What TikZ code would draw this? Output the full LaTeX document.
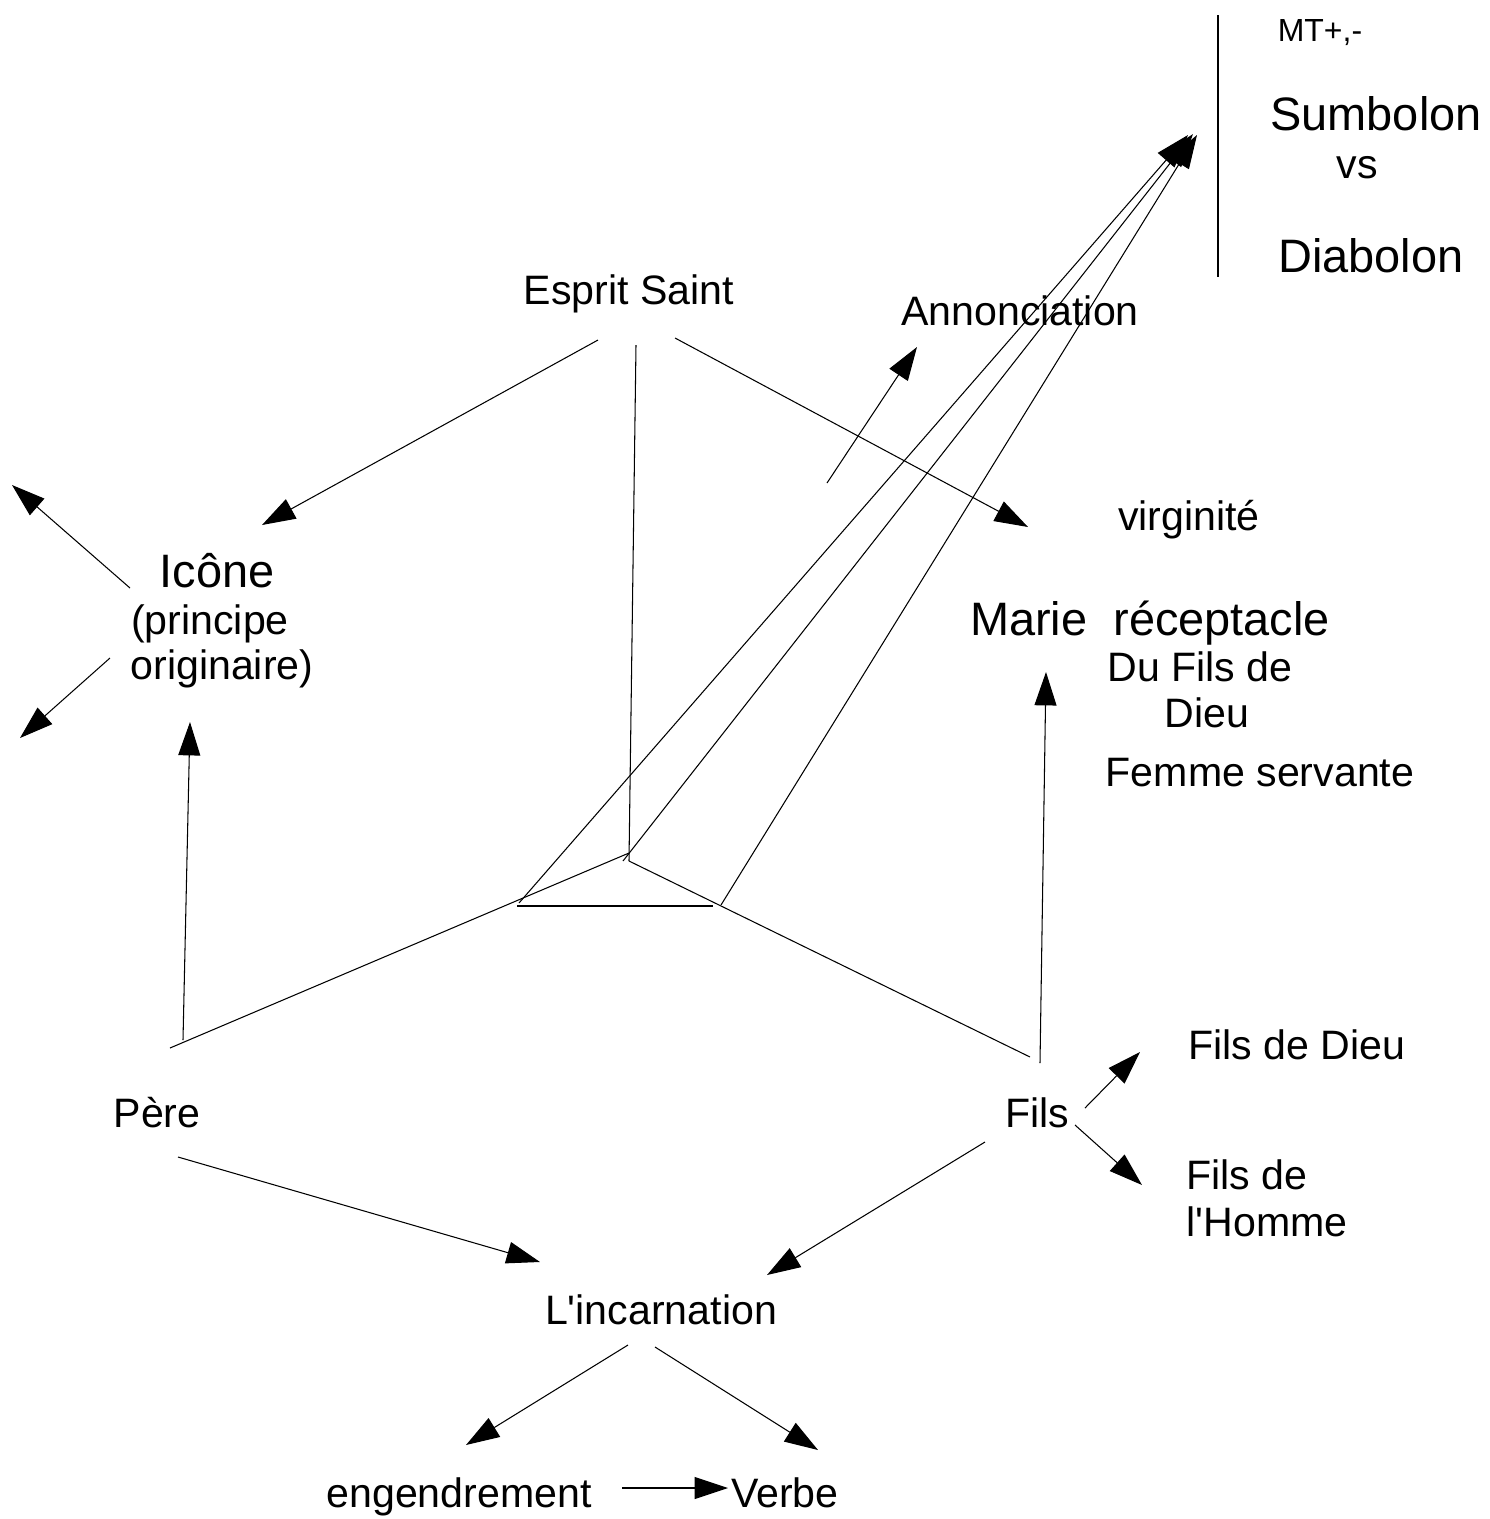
\documentclass[tikz,border=0pt]{standalone}
\usepackage{fontspec}
\setmainfont{Liberation Sans}
\usetikzlibrary{arrows.meta}

\begin{document}
\begin{tikzpicture}[%
    x=0.02cm, y=-0.02cm,
    line width=0.6pt,
    >={Triangle[length=19pt,width=12.5pt]},
lbl/.style={anchor=base, inner sep=0pt, font=\fontsize{23.4}{28}\selectfont},
biglbl/.style={anchor=base, inner sep=0pt, font=\fontsize{26.7}{32}\selectfont},
smalllbl/.style={anchor=base, inner sep=0pt, font=\fontsize{18.2}{22}\selectfont}
]
\useasboundingbox (0,0) rectangle (1489,1519);

% Top right box
\node[smalllbl]   (mt)        at (1320,41)  {MT+,-};
\node[biglbl]     (sumbolon)  at (1376,130) {Sumbolon};
\node[lbl]        (vs)        at (1357,178) {vs};
\node[biglbl]     (diabolon)  at (1371,272) {Diabolon};
\coordinate (bar-top) at (1218,15);
\coordinate (bar-bot) at (1218,277);
\draw (bar-top) -- (bar-bot);

% Esprit Saint
\node[lbl]        (esprit)    at (629,304)  {Esprit Saint};
\node[lbl]        (annonce)   at (1020,325) {Annonciation};
\node[lbl]        (virginite) at (1189,530) {virginité};

% Icone
\node[biglbl]     (icone)     at (217,587)  {Icône};
\node[lbl]        (principe)  at (210,634)  {(principe};
\node[lbl]        (originaire) at (222,679) {originaire)};

% Marie
\node[biglbl]     (marie)     at (1150,635) {Marie\ \ réceptacle};
\node[lbl]        (dufils)    at (1200,681) {Du Fils de};
\node[lbl]        (dieu)      at (1207,727) {Dieu};
\node[lbl]        (femme)     at (1260,786) {Femme servante};

% Pere and Fils
\node[lbl]        (pere)      at (157,1127) {Père};
\node[lbl]        (fils)      at (1037,1127) {Fils};
\node[lbl]        (filsdieu)  at (1297,1059) {Fils de Dieu};
\node[lbl]        (filsde)    at (1247,1189) {Fils de};
\node[lbl]        (homme)     at (1267,1236) {l\textquotesingle Homme};

% Incarnation
\node[lbl]        (incarn)    at (661,1324) {L\textquotesingle incarnation};
\node[lbl]        (engendre)  at (459,1507) {engendrement};
\node[lbl]        (verbe)     at (785,1507) {Verbe};

% triangle corners
\coordinate (top)   at (629,861);
\coordinate (left)  at (517,906);
\coordinate (right) at (713,906);
\coordinate (tip1)  at (1188,135);
\coordinate (tip2)  at (1193,134);
\coordinate (tip3)  at (1197,135);

% Esprit lines
\draw[->] (598,340) -- (262,525);
\draw (636,345) -- (top);
\draw[->] (675,338) -- (1028,527);
\draw[->] (827,483) -- (917,347);

% Lines to Sumbolon
\draw[->] (519,903) -- (tip1);
\draw[->] (623,861) -- (tip2);
\draw[->] (721,905) -- (tip3);
\draw (left) -- (right);

% Icone lines
\draw[->] (130,588) -- (12,485);
\draw[->] (110,658) -- (20,738);

% Pere lines
\draw (170,1048) -- (629,853);
\draw[->] (183,1040) -- (190,722);
\draw[->] (178,1157) -- (540,1262);

% Fils lines
\draw (top) -- (1030,1057);
\draw[->] (1040,1063) -- (1046,672);
\draw[->] (1085,1108) -- (1140,1052);
\draw[->] (1075,1125) -- (1142,1185);
\draw[->] (985,1142) -- (767,1275);

% Incarnation lines
\draw[->] (628,1345) -- (466,1445);
\draw[->] (655,1347) -- (818,1450);
\draw[->] (622,1488) -- (728,1488);

\end{tikzpicture}
\end{document}
